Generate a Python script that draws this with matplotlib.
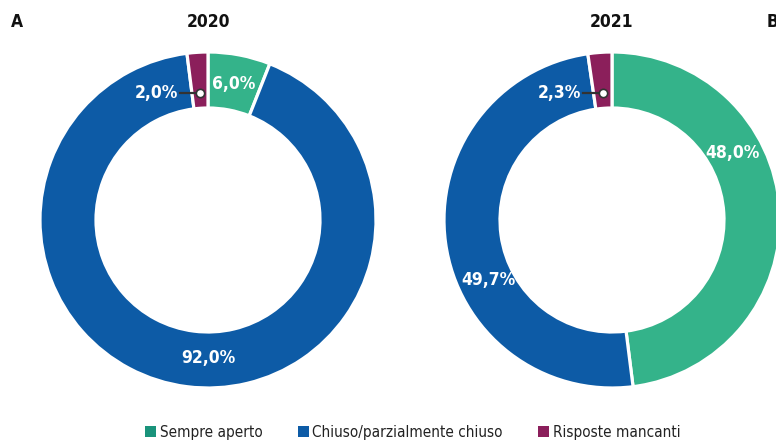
import numpy as np
import matplotlib
matplotlib.use("Agg")
import matplotlib.pyplot as plt
from matplotlib.patches import Patch

plt.rcParams['font.family'] = ['DejaVu Sans']
plt.rcParams['font.stretch'] = 'condensed'

categories = ["Sempre aperto", "Chiuso/parzialmente chiuso", "Risposte mancanti"]
years = ["2020", "2021"]
values_2020 = [6.0, 92.0, 2.0]
values_2021 = [48.0, 49.7, 2.3]
panel_letters = ["A", "B"]

colors = ["#34b38a", "#0d5ba6", "#8b1f5b"]
legend_colors = ["#1a937b", "#0d5ba6", "#8b1f5b"]

W, H = 776, 440
fig = plt.figure(figsize=(W / 100, H / 100), dpi=100)
ax = fig.add_axes([0, 0, 1, 1])

R = 168
ring = 56
centers = [(208, H - 220), (612, H - 220)]
label_angles = [[10.8, 180.0], [61.0, 244.0]]


def fmt(v):
    return f"{v:.1f}".replace(".", ",") + "%"


for i, (vals, year) in enumerate(zip([values_2020, values_2021], years)):
    cx, cy = centers[i]
    ax.pie(vals, colors=colors, startangle=90, counterclock=False,
           radius=R, center=(cx, cy),
           wedgeprops=dict(width=ring, edgecolor="white", linewidth=2.3))
    rmid = R - ring / 2
    for j in range(2):
        th = np.deg2rad(label_angles[i][j])
        ax.text(cx + (rmid - 2) * np.sin(th), cy + (rmid - 2) * np.cos(th), fmt(vals[j]),
                ha="center", va="center", color="white", fontsize=12.5, fontweight="bold")
    start = sum(vals[:2]) / 100 * 360
    mid = np.deg2rad(start + vals[2] / 100 * 360 / 2)
    rd = R - 41
    dx, dy = cx + rd * np.sin(mid), cy + rd * np.cos(mid)
    ax.plot([dx - 20, dx], [dy, dy], color="#333333", lw=1.6, zorder=5)
    ax.plot([dx], [dy], marker="o", ms=6, mfc="white", mec="#333333", mew=1.2, zorder=6)
    ax.text(dx - 22, dy, fmt(vals[2]), ha="right", va="center", color="white",
            fontsize=12.5, fontweight="bold")
    ax.text(cx, H - 22, year, ha="center", va="center", fontsize=12.5, fontweight="bold",
            color="#111111")

ax.text(11, H - 22, panel_letters[0], ha="left", va="center", fontsize=12.5,
        fontweight="bold", color="#111111")
ax.text(767, H - 22, panel_letters[1], ha="left", va="center", fontsize=12.5,
        fontweight="bold", color="#111111")

ax.set_xlim(0, W)
ax.set_ylim(0, H)
ax.set_aspect("equal")
ax.axis("off")

handles = [Patch(facecolor=c, edgecolor="none") for c in legend_colors]
fig.legend(handles, categories, loc="center", bbox_to_anchor=(0.532, 1 - 432 / H),
           ncol=3, frameon=False, fontsize=11, handlelength=0.7, handleheight=0.7,
           handletextpad=0.25, columnspacing=2.3, borderaxespad=0, labelcolor="#222222")

fig.savefig("out.png", dpi=100)
